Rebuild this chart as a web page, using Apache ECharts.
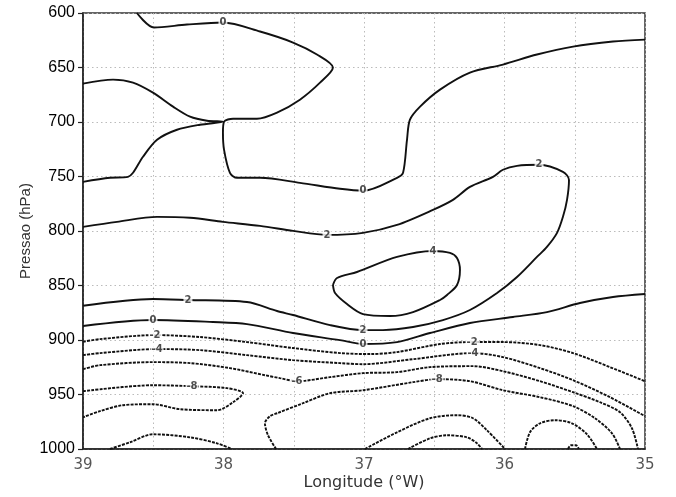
<!DOCTYPE html>
<html>
<head>
<meta charset="utf-8">
<script src="https://cdn.jsdelivr.net/npm/echarts@6/dist/echarts.min.js"></script>
<style>
  html, body { margin: 0; padding: 0; background: #fff; }
  #chart { width: 676px; height: 497px; }
</style>
</head>
<body>
<div id="chart"></div>
<script>
// Axis ranges and tick labels
const lonMin = 35, lonMax = 39, lonStep = 0.5;
const presMin = 600, presMax = 1000, presStep = 50;
const lonLabels = [39, 38, 37, 36, 35];
const presLabels = [600, 650, 700, 750, 800, 850, 900, 950, 1000];

// Contour polylines: [longitude (°W), pressure (hPa)]
const c0Upper = [
  [38.616, 600], [38.495, 613.3], [38.26, 610.6], [38.004, 608.7], [37.74, 617.0],
  [37.505, 627.1], [37.335, 638.1], [37.221, 650.1], [37.313, 663.9], [37.456, 679.5],
  [37.619, 691.4], [37.762, 697.0], [37.932, 697.0], [37.996, 699.7], [38.004, 709.8],
  [37.996, 725.5], [37.954, 746.6], [37.904, 751.2], [37.74, 751.2], [37.456, 755.8],
  [37.171, 761.3], [37.007, 763.1], [36.765, 751.2], [36.722, 746.6], [36.694, 716.3],
  [36.673, 697.9], [36.601, 685.9], [36.459, 670.3], [36.246, 654.7], [36.011, 647.3],
  [35.769, 638.1], [35.512, 630.8], [35.228, 626.2], [35.0, 624.4]
];
const c0West = [
  [39, 664.8], [38.786, 661.1], [38.644, 663.9], [38.502, 673.1], [38.359, 685.9],
  [38.238, 695.1], [38.117, 698.8], [38.004, 699.7], [38.167, 702.5], [38.331, 707.1],
  [38.473, 716.3], [38.573, 731.9], [38.644, 746.6], [38.68, 750.3], [38.808, 751.2],
  [39, 754.9]
];
const c2Band = [
  [39, 796.2], [38.758, 791.6], [38.473, 787.0], [38.238, 787.9], [38.004, 791.6],
  [37.74, 795.3], [37.505, 799.9], [37.263, 803.6], [37.007, 801.7], [36.765, 794.4],
  [36.509, 780.6], [36.367, 771.4], [36.246, 759.5], [36.082, 750.3], [36.011, 743.8],
  [35.911, 740.2], [35.754, 739.2], [35.584, 745.7], [35.541, 753.1], [35.555, 771.4],
  [35.584, 787.0], [35.626, 801.7], [35.698, 814.6], [35.769, 823.8], [35.911, 842.2],
  [36.053, 856.9], [36.246, 872.5], [36.438, 881.7], [36.651, 888.1], [36.865, 890.9],
  [37.007, 890.9], [37.242, 886.3], [37.505, 877.1], [37.619, 873.4], [37.833, 865.2],
  [38.253, 863.3], [38.502, 862.4], [39, 868.6]
];
const c4Cell = [
  [37.221, 849.5], [37.192, 843.1], [37.05, 837.6], [36.765, 823.8], [36.509, 818.3],
  [36.388, 820.1], [36.338, 824.7], [36.317, 835.8], [36.338, 849.5], [36.409, 858.7],
  [36.459, 863.3], [36.651, 874.4], [36.815, 878.0], [37.007, 876.2], [37.121, 867.0],
  [37.206, 856.9], [37.221, 849.5]
];
const c0Lower = [
  [39, 887.2], [38.502, 881.7], [38.075, 883.5], [37.833, 885.4], [37.505, 893.6],
  [37.171, 900.1], [37.007, 903.7], [36.765, 901.9], [36.53, 893.6], [36.246, 884.4],
  [35.94, 878.9], [35.698, 874.4], [35.463, 866.1], [35.228, 860.6], [35, 857.8]
];
const cm2 = [
  [39, 901.6], [38.879, 899.2], [38.488, 895.5], [38.167, 897.3], [37.833, 901.9],
  [37.505, 907.4], [37.171, 912.0], [36.957, 912.9], [36.765, 911.1], [36.459, 903.7],
  [36.231, 901.9], [36.011, 901.9], [35.747, 904.7], [35.512, 912.0], [35.249, 924.9],
  [35, 937.8]
];
const cm4 = [
  [39, 913.9], [38.879, 912.0], [38.473, 908.3], [38.167, 909.3], [37.833, 913.9],
  [37.505, 918.5], [37.171, 921.2], [37.007, 922.2], [36.651, 917.6], [36.224, 912.0],
  [36.011, 915.7], [35.747, 925.8], [35.512, 936.9], [35.249, 952.5], [35, 969.9]
];
const cm6 = [
  [39, 926.8], [38.879, 923.1], [38.502, 920.3], [38.238, 921.2], [37.954, 925.8],
  [37.705, 932.3], [37.598, 935.0], [37.477, 937.8], [37.242, 934.1], [37.007, 930.4],
  [36.765, 929.5], [36.53, 924.9], [36.224, 924.0], [36.011, 928.6], [35.747, 937.8],
  [35.512, 947.9], [35.32, 957.1], [35.178, 966.3], [35.093, 981.0], [35.05, 1000]
];
const cm8West = [
  [39, 947.0], [38.502, 941.5], [38.224, 942.4], [37.975, 944.2], [37.861, 948.8],
  [37.932, 957.1], [38.046, 964.4], [38.31, 963.5], [38.502, 958.9], [38.715, 959.8],
  [38.879, 965.3], [39, 970.9]
];
const cm8East = [
  [37.626, 1000], [37.683, 987.4], [37.705, 976.4], [37.669, 969.9], [37.619, 967.2],
  [37.434, 958.0], [37.242, 948.8], [37.007, 946.1], [36.651, 938.7], [36.48, 935.9],
  [36.246, 937.8], [36.011, 946.1], [35.747, 952.5], [35.512, 960.7], [35.356, 971.8],
  [35.235, 985.6], [35.178, 1000]
];
const cm10West = [
  [38.808, 1000], [38.665, 993.8], [38.502, 986.5], [38.238, 989.3], [38.046, 994.8],
  [37.94, 1000]
];
const cm10Mid = [
  [36.993, 1000], [36.765, 984.7], [36.53, 971.8], [36.338, 969.0], [36.224, 971.8],
  [36.125, 982.8], [35.996, 1000]
];
const cm12Mid = [
  [36.687, 1000], [36.53, 990.2], [36.409, 987.4], [36.267, 989.3], [36.196, 994.8],
  [36.16, 1000]
];
const cm10East = [
  [35.854, 1000], [35.819, 984.7], [35.747, 976.4], [35.641, 973.6], [35.52, 976.4],
  [35.413, 986.5], [35.342, 1000]
];
const cm12East = [
  [35.548, 1000], [35.527, 996.6], [35.491, 996.6], [35.47, 1000]
];

// Contour labels: [longitude, pressure, text]
const contourLabels = [
  [38.004, 608.7, '0'], [37.007, 763.1, '0'],
  [37.263, 803.6, '2'], [35.754, 739.2, '2'], [37.007, 890.9, '2'], [38.253, 863.3, '2'],
  [36.509, 818.3, '4'],
  [38.502, 881.7, '0'], [37.007, 903.7, '0'],
  [38.488, 895.5, '-2'], [36.231, 901.9, '-2'],
  [38.473, 908.3, '-4'], [36.224, 912.0, '-4'],
  [37.477, 937.8, '-6'],
  [38.224, 942.4, '-8'], [36.48, 935.9, '-8']
];

const contours = [
  { level: 0, pts: c0Upper }, { level: 0, pts: c0West },
  { level: 2, pts: c2Band }, { level: 4, pts: c4Cell },
  { level: 0, pts: c0Lower },
  { level: -2, pts: cm2 }, { level: -4, pts: cm4 }, { level: -6, pts: cm6 },
  { level: -8, pts: cm8West }, { level: -8, pts: cm8East },
  { level: -10, pts: cm10West }, { level: -10, pts: cm10Mid }, { level: -12, pts: cm12Mid },
  { level: -10, pts: cm10East }, { level: -12, pts: cm12East }
];

const series = contours.map(c => ({
  type: 'line',
  data: c.pts,
  smooth: 0.3,
  symbol: 'none',
  silent: true,
  z: 3,
  lineStyle: {
    color: '#111',
    width: 1.9,
    type: c.level < 0 ? [3, 1.2] : 'solid'
  }
}));

series.push({
  type: 'scatter',
  data: contourLabels,
  symbolSize: 0,
  z: 5,
  label: {
    show: true,
    position: 'inside',
    formatter: p => p.data[2],
    fontFamily: 'DejaVu Sans',
    fontSize: 10,
    fontWeight: 'bold',
    color: '#222',
    backgroundColor: '#fff',
    padding: [0, 1]
  }
});

const chart = echarts.init(document.getElementById('chart'), null, { renderer: 'canvas' });
chart.setOption({
  animation: false,
  backgroundColor: '#fff',
  grid: {
    left: 83, right: 31, top: 13, bottom: 48,
    show: true, borderColor: '#333', borderWidth: 1.5, backgroundColor: 'transparent'
  },
  xAxis: {
    type: 'value',
    min: lonMin, max: lonMax, interval: lonStep,
    inverse: true,
    name: 'Longitude (°W)',
    nameLocation: 'middle',
    nameGap: 26,
    nameMoveOverlap: false,
    nameTextStyle: { fontFamily: 'DejaVu Sans', fontSize: 16, color: '#333' },
    axisLine: { show: true, onZero: false, lineStyle: { color: '#222', width: 1.5 } },
    axisTick: { show: false },
    axisLabel: {
      margin: 9,
      fontFamily: 'DejaVu Sans', fontSize: 15, color: '#555',
      formatter: v => (lonLabels.indexOf(v) >= 0 ? String(v) : '')
    },
    splitLine: { show: true, lineStyle: { color: '#bbb', type: [1.5, 3], width: 1 } }
  },
  yAxis: {
    type: 'value',
    min: presMin, max: presMax, interval: presStep,
    inverse: true,
    name: 'Pressao (hPa)',
    nameLocation: 'middle',
    nameGap: 50,
    nameMoveOverlap: false,
    nameTextStyle: { fontFamily: 'Liberation Sans', fontSize: 15, color: '#333' },
    axisLine: { show: true, onZero: false, lineStyle: { color: '#222', width: 1.5 } },
    axisTick: { show: true, inside: false, length: 5, lineStyle: { color: '#222', width: 1.2 } },
    axisLabel: {
      margin: 8,
      fontFamily: 'Liberation Sans', fontSize: 16, color: '#000',
      formatter: v => (presLabels.indexOf(v) >= 0 ? String(v) : '')
    },
    splitLine: { show: true, lineStyle: { color: '#bbb', type: [1.5, 3], width: 1 } }
  },
  series: series
});
</script>
</body>
</html>
